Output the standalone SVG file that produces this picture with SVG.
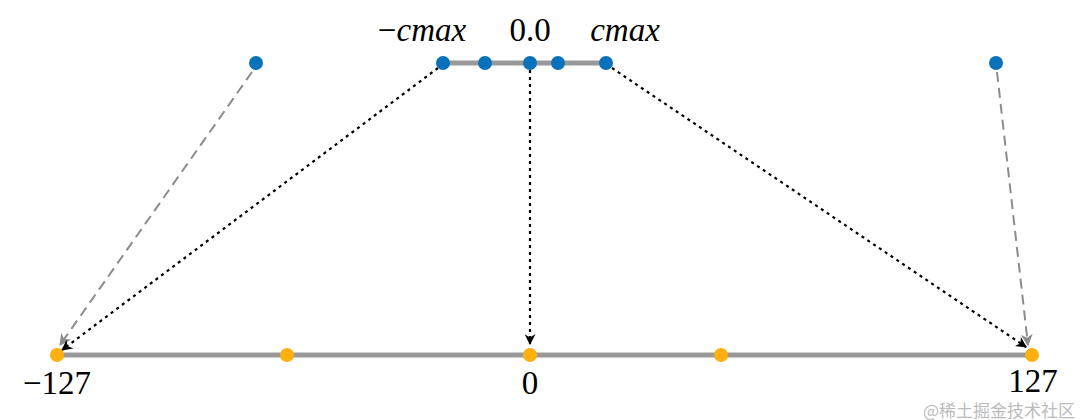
<svg xmlns="http://www.w3.org/2000/svg" width="1080" height="420" viewBox="0 0 1080 420">
<style>
.axis{stroke:#999;stroke-width:5;}
.blue{fill:#0a72ba;}
.orange{fill:#fdb00f;}
.blk{stroke:#000;stroke-width:2.2;stroke-dasharray:3,4;fill:none;}
.gry{stroke:#8c8c8c;stroke-width:2;stroke-dasharray:10,6;fill:none;}
.lbl{font-family:"Liberation Serif",serif;font-size:33px;fill:#000;text-anchor:middle;}
.it{font-style:italic;}
</style>
<defs>
<marker id="ab" viewBox="0 0 10 10" refX="9" refY="5" markerWidth="11" markerHeight="11" orient="auto" markerUnits="userSpaceOnUse"><path d="M0,0 L10,5 L0,10 L3,5 z" fill="#000"/></marker>
<marker id="ag" viewBox="0 0 10 10" refX="9" refY="5" markerWidth="12" markerHeight="12" orient="auto" markerUnits="userSpaceOnUse"><path d="M0,0 L10,5 L0,10 L3,5 z" fill="#8c8c8c"/></marker>
</defs>
<g id="axes">
<line class="axis" x1="443" y1="63" x2="606" y2="63"/>
<line class="axis" x1="57" y1="355" x2="1032" y2="355"/>
</g>
<g id="connectors">
<line class="gry" x1="252" y1="72" x2="60" y2="345" marker-end="url(#ag)"/>
<line class="gry" x1="997" y1="72" x2="1028" y2="345" marker-end="url(#ag)"/>
<line class="blk" x1="438" y1="68" x2="62" y2="350" marker-end="url(#ab)"/>
<line class="blk" x1="530" y1="70" x2="530" y2="344" marker-end="url(#ab)"/>
<line class="blk" x1="612" y1="68" x2="1026" y2="347" marker-end="url(#ab)"/>
</g>
<g id="source-points">
<circle class="blue" cx="256" cy="63" r="7"/>
<circle class="blue" cx="443" cy="63" r="7"/>
<circle class="blue" cx="485" cy="63" r="7"/>
<circle class="blue" cx="530" cy="63" r="7"/>
<circle class="blue" cx="558" cy="63" r="7"/>
<circle class="blue" cx="606" cy="63" r="7"/>
<circle class="blue" cx="996" cy="63" r="7"/>
</g>
<g id="target-points">
<circle class="orange" cx="57" cy="355" r="7"/>
<circle class="orange" cx="287" cy="355" r="7"/>
<circle class="orange" cx="530" cy="355" r="7"/>
<circle class="orange" cx="721" cy="355" r="7"/>
<circle class="orange" cx="1032" cy="355" r="7"/>
</g>
<g id="labels">
<text class="lbl" x="422" y="41"><tspan>−</tspan><tspan class="it">cmax</tspan></text>
<text class="lbl" x="530" y="41">0.0</text>
<text class="lbl it" x="625" y="41">cmax</text>
<text class="lbl" x="57" y="394">−127</text>
<text class="lbl" x="530" y="394">0</text>
<text class="lbl" x="1033" y="392">127</text>
</g>
<text x="1075" y="417" font-family="'Noto Sans CJK SC',sans-serif" font-size="17" fill="#bbb" text-anchor="end">@稀土掘金技术社区</text>
</svg>
